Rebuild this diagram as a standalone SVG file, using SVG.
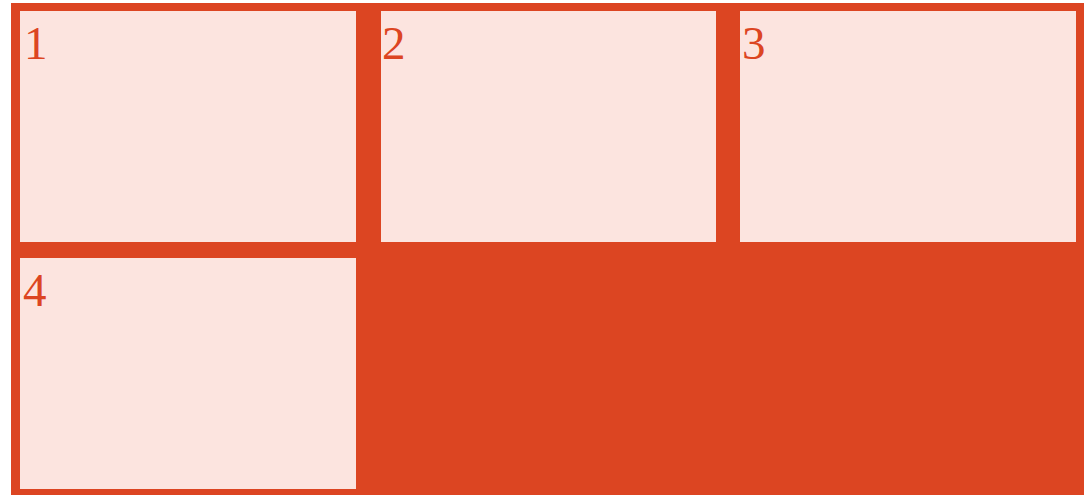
<svg xmlns="http://www.w3.org/2000/svg" width="1090" height="495" viewBox="0 0 1090 495">
<style>
.cell{fill:#FCE4DF}
.lbl{font-family:"Liberation Serif","Times New Roman",serif;font-size:47px;fill:#DC4522}
</style>
<rect width="1090" height="495" fill="#FFFFFF"/>
<g id="container"><rect x="11" y="3" width="1073" height="494" fill="#DC4522"/></g>
<g id="node1"><rect class="cell" x="20" y="11" width="336" height="231"/><text class="lbl" x="24" y="59">1</text></g>
<g id="node2"><rect class="cell" x="381" y="11" width="335" height="231"/><text class="lbl" x="382" y="59">2</text></g>
<g id="node3"><rect class="cell" x="740" y="11" width="336" height="231"/><text class="lbl" x="742" y="59">3</text></g>
<g id="node4"><rect class="cell" x="20" y="258" width="336" height="231"/><text class="lbl" x="23" y="306">4</text></g>
<g id="connectors"></g>
</svg>
